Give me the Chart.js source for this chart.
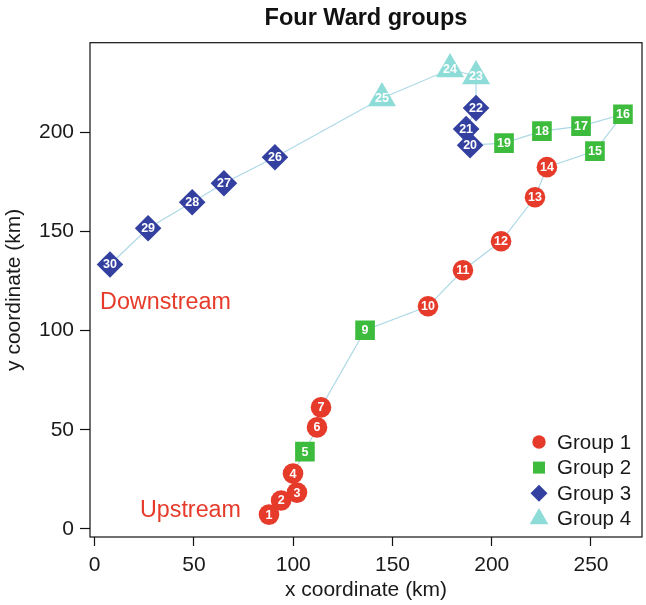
<!DOCTYPE html>
<html>
<head>
<meta charset="utf-8">
<script src="https://cdn.jsdelivr.net/npm/chart.js@4.4.1/dist/chart.umd.min.js"></script>
<style>
  html, body { margin: 0; padding: 0; background: #fff; }
</style>
</head>
<body>
<canvas id="wardChart" width="646" height="605"></canvas>
<script>
// site numbers, in river order (no 8 visible in the figure)
const pointIds = [1, 2, 3, 4, 5, 6, 7, 9, 10, 11, 12, 13, 14, 15, 16, 17, 18, 19, 20, 21, 22, 23, 24, 25, 26, 27, 28, 29, 30];
const xCoords = [87.8, 93.9, 101.9, 99.9, 105.9, 112.0, 114.0, 136.2, 167.9, 185.5, 204.7, 221.8, 227.8, 252.0, 266.1, 245.0, 225.3, 206.2, 189.1, 187.1, 192.1, 192.1, 179.0, 144.7, 90.8, 65.1, 49.1, 26.9, 7.7];
const yCoords = [7.2, 14.3, 18.3, 27.9, 39.0, 51.2, 61.3, 100.2, 112.3, 130.5, 145.1, 167.3, 182.5, 190.6, 209.2, 203.2, 200.7, 194.6, 193.6, 201.7, 212.3, 228.4, 231.9, 217.3, 187.5, 174.4, 164.8, 151.7, 133.4];
const groupOf = [1, 1, 1, 1, 2, 1, 1, 2, 1, 1, 1, 1, 1, 2, 2, 2, 2, 2, 3, 3, 3, 4, 4, 4, 3, 3, 3, 3, 3];

const groupNames = ['Group 1', 'Group 2', 'Group 3', 'Group 4'];
const xTicks = [0, 50, 100, 150, 200, 250];
const yTicks = [0, 50, 100, 150, 200];

const groupColors = ['#e63b2a', '#3dbb3d', '#3440a0', '#8edcd7'];
const groupShapes = ['circle', 'rect', 'rectRot', 'triangle'];
const groupRadius = [10.3, 13.9, 13.3, 16.2];
const legendRadius = [6.7, 8.5, 8.5, 10.8];

const FONT = '"Liberation Sans", Arial, Helvetica, sans-serif';

const pts = pointIds.map((id, i) => ({ x: xCoords[i], y: yCoords[i], id, g: groupOf[i] }));

const datasets = [{
  label: 'path',
  data: pts.map(p => ({ x: p.x, y: p.y })),
  showLine: true,
  borderColor: '#add8e6',
  borderWidth: 1.2,
  pointRadius: 0,
  order: 10,
}];
groupNames.forEach((name, gi) => {
  datasets.push({
    label: name,
    data: pts.filter(p => p.g === gi + 1),
    pointStyle: groupShapes[gi],
    pointRadius: groupRadius[gi],
    backgroundColor: groupColors[gi],
    borderWidth: 0,
    pointBorderWidth: 0,
    showLine: false,
    order: 4 - gi,
  });
});

const boxPlugin = {
  id: 'box',
  afterDraw(chart) {
    const { ctx, chartArea: a } = chart;
    ctx.save();
    ctx.strokeStyle = '#111';
    ctx.lineWidth = 1.2;
    ctx.strokeRect(a.left, a.top, a.right - a.left, a.bottom - a.top);
    ctx.restore();
  }
};

const idLabels = {
  id: 'idLabels',
  afterDatasetsDraw(chart) {
    const ctx = chart.ctx;
    ctx.save();
    ctx.fillStyle = '#fff';
    ctx.font = 'bold 12.5px ' + FONT;
    ctx.textAlign = 'center';
    ctx.textBaseline = 'middle';
    chart.data.datasets.forEach((ds, di) => {
      if (di === 0) return;
      chart.getDatasetMeta(di).data.forEach((el, k) => {
        ctx.fillText(String(ds.data[k].id), el.x, el.y + 0.5);
      });
    });
    ctx.restore();
  }
};

const notes = {
  id: 'notes',
  afterDraw(chart) {
    const { ctx, scales } = chart;
    ctx.save();
    ctx.fillStyle = '#e63b2a';
    ctx.font = '23.3px ' + FONT;
    ctx.textAlign = 'left';
    ctx.textBaseline = 'alphabetic';
    ctx.fillText('Downstream', scales.x.getPixelForValue(2.7), scales.y.getPixelForValue(111.1));
    ctx.fillText('Upstream', scales.x.getPixelForValue(22.8), scales.y.getPixelForValue(6.2));
    ctx.restore();
  }
};

const cornerLegend = {
  id: 'cornerLegend',
  afterDraw(chart) {
    const { ctx, chartArea: a } = chart;
    const mx = a.right - 103;
    const y0 = a.bottom - 95;
    ctx.save();
    ctx.font = '20.5px ' + FONT;
    ctx.textAlign = 'left';
    ctx.textBaseline = 'middle';
    groupNames.forEach((name, gi) => {
      const y = y0 + gi * 25.6;
      ctx.fillStyle = groupColors[gi];
      Chart.helpers.drawPoint(ctx, { pointStyle: groupShapes[gi], radius: legendRadius[gi], rotation: 0, borderWidth: 0 }, mx, y);
      ctx.fillStyle = '#1a1a1a';
      ctx.fillText(name, mx + 18, y + 1);
    });
    ctx.restore();
  }
};

new Chart(document.getElementById('wardChart'), {
  type: 'scatter',
  data: { datasets },
  plugins: [boxPlugin, idLabels, notes, cornerLegend],
  options: {
    responsive: false,
    animation: false,
    events: [],
    layout: { autoPadding: false, padding: { left: 0, right: 4, top: 0, bottom: 0 } },
    plugins: {
      legend: { display: false },
      tooltip: { enabled: false },
      title: {
        display: true,
        text: 'Four Ward groups',
        fullSize: false,
        color: '#111',
        font: { family: FONT, size: 23.5, weight: 'bold', lineHeight: 1.2 },
        padding: { top: 4, bottom: 10.5 },
      },
    },
    scales: {
      x: {
        type: 'linear',
        min: -2.37,
        max: 275.7,
        afterBuildTicks: s => { s.ticks = xTicks.map(v => ({ value: v })); },
        afterFit: s => { s.height = 68; },
        border: { display: false },
        grid: { drawOnChartArea: false, drawTicks: true, tickLength: 9, tickColor: '#111', tickWidth: 1.2 },
        ticks: { color: '#1a1a1a', font: { family: FONT, size: 21 }, padding: 7, maxRotation: 0 },
        title: { display: true, text: 'x coordinate (km)', color: '#1a1a1a', font: { family: FONT, size: 21 }, padding: { top: 0, bottom: 2 } },
      },
      y: {
        type: 'linear',
        min: -4.1,
        max: 245.3,
        afterBuildTicks: s => { s.ticks = yTicks.map(v => ({ value: v })); },
        afterFit: s => { s.width = 90; },
        border: { display: false },
        grid: { drawOnChartArea: false, drawTicks: true, tickLength: 10, tickColor: '#111', tickWidth: 1.2 },
        ticks: { color: '#1a1a1a', font: { family: FONT, size: 21 }, padding: 6 },
        title: { display: true, text: 'y coordinate (km)', color: '#1a1a1a', font: { family: FONT, size: 21 }, padding: { top: 2, bottom: 0 } },
      },
    },
  },
});
</script>
</body>
</html>
